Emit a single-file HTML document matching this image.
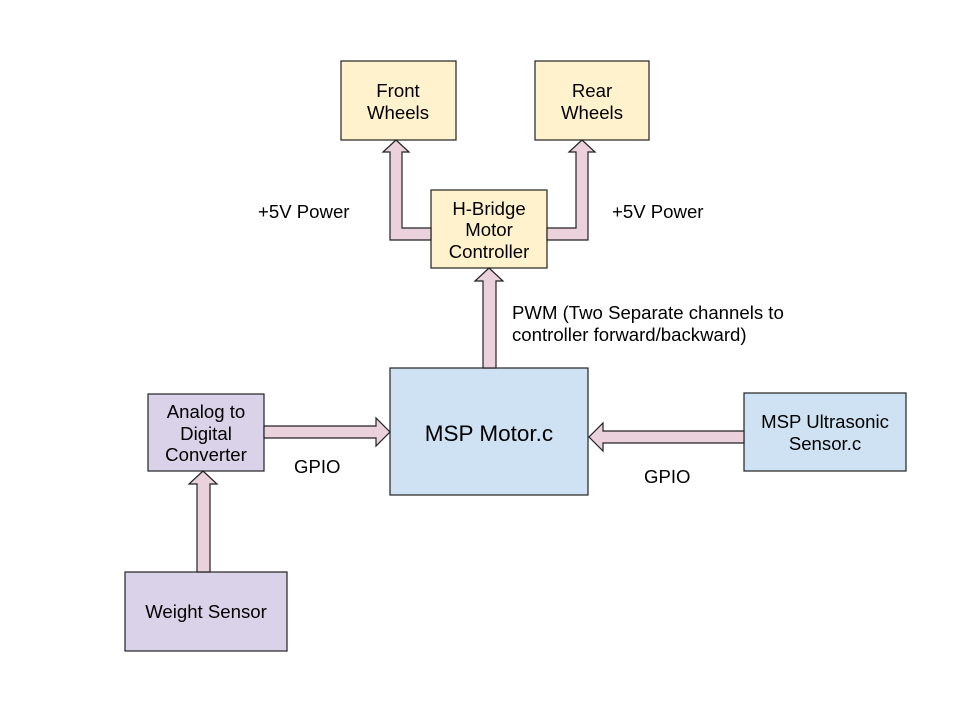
<!DOCTYPE html>
<html><head><style>body{margin:0;background:#fff}svg{display:block}text{font-family:"Liberation Sans",Arial,sans-serif;font-size:18.6px;fill:#000}</style></head><body>
<svg width="960" height="720" viewBox="0 0 960 720">
<g stroke="#222" stroke-width="1.2">
<rect x="341" y="61" width="115" height="79" fill="#fff2cc"/>
<rect x="535" y="61" width="114" height="79" fill="#fff2cc"/>
<rect x="431" y="190" width="116" height="78" fill="#fff2cc"/>
<rect x="390" y="368" width="198" height="127" fill="#cfe2f3"/>
<rect x="148" y="394" width="116" height="77" fill="#d9d2e9"/>
<rect x="744" y="393" width="162" height="78" fill="#cfe2f3"/>
<rect x="125" y="572" width="162" height="79" fill="#d9d2e9"/>
<g fill="#ead1dc">
<path d="M431,228 L402,228 L402,152 L409,152 L396,140 L383,152 L390,152 L390,240 L431,240 Z"/>
<path d="M547,228 L576,228 L576,152 L569,152 L582,140 L595,152 L588,152 L588,240 L547,240 Z"/>
<path d="M483,368 L483,281 L475,281 L489,268 L503,281 L496,281 L496,368 Z"/>
<path d="M264,426 L376,426 L376,418 L390,432 L376,446 L376,438 L264,438 Z"/>
<path d="M744,431 L603,431 L603,423 L589,437 L603,451 L603,443 L744,443 Z"/>
<path d="M197,572 L197,484 L189,484 L203,471 L217,484 L210,484 L210,572 Z"/>
</g></g>
<g text-anchor="middle">
<text x="398" y="97">Front</text><text x="398" y="119">Wheels</text>
<text x="592" y="97">Rear</text><text x="592" y="119">Wheels</text>
<text x="489" y="215">H-Bridge</text><text x="489" y="236">Motor</text><text x="489" y="258">Controller</text>
<text x="489" y="441" style="font-size:22.5px">MSP Motor.c</text>
<text x="206" y="418">Analog to</text><text x="206" y="440">Digital</text><text x="206" y="461">Converter</text>
<text x="825" y="428">MSP Ultrasonic</text><text x="825" y="450">Sensor.c</text>
<text x="206" y="618">Weight Sensor</text>
</g>
<text x="258" y="218">+5V Power</text>
<text x="612" y="218">+5V Power</text>
<text x="512" y="319">PWM (Two Separate channels to</text>
<text x="512" y="341">controller forward/backward)</text>
<text x="294" y="473">GPIO</text>
<text x="644" y="483">GPIO</text>
</svg>
</body></html>
